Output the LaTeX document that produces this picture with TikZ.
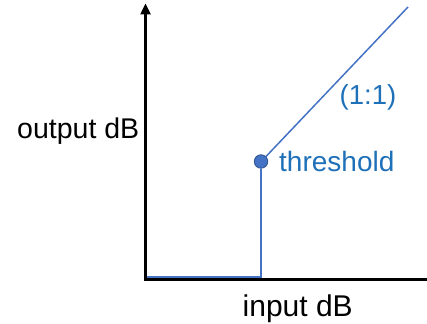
\documentclass[tikz,border=0pt]{standalone}
\usepackage{fontspec}
\setmainfont{Liberation Sans}
\usetikzlibrary{arrows.meta}
\definecolor{curve}{HTML}{4472C4}
\definecolor{curvedark}{HTML}{2F528F}
\definecolor{labelblue}{HTML}{1E70B8}
\tikzset{
  axis/.style={line width=2.4pt, black},
  curveline/.style={line width=1.5pt, curve},
  lbl/.style={inner sep=0pt, anchor=base west, font=\fontsize{28.5}{31}\selectfont},
  bluelbl/.style={lbl, text=labelblue},
}
\begin{document}
\begin{tikzpicture}[x=1pt, y=-1pt]
  \useasboundingbox (0,0) rectangle (427,323);
  % axes
  \coordinate (origin) at (145.5,279.5);
  \coordinate (ytip) at (145.5,3.5);
  \coordinate (xend) at (427,279.5);
  \draw[axis] (xend) -- ([xshift=-1.2pt]origin);
  \draw[axis, -{Triangle[length=11pt,width=10pt]}] (origin) -- (ytip);
  % transfer curve
  \coordinate (floorend) at (261,277.2);
  \coordinate (floorstart) at (146.5,277.2);
  \coordinate (top) at (408,7);
  \node[circle, fill=curve, draw=curvedark, line width=0.8pt, minimum size=13.5pt, inner sep=0pt] (thr) at (261,161.5) {};
  \draw[curveline] (floorstart) -- (floorend) -- (thr.south);
  \draw[curveline] (thr.north east) -- (top);
  % labels
  \node[lbl] (ylab) at (17,139) {output dB};
  \node[lbl, font=\fontsize{30}{33}\selectfont] (xlab) at (242.5,316) {input dB};
  \node[bluelbl, font=\fontsize{28}{31}\selectfont] (thrlab) at (279,171.5) {threshold};
  \node[bluelbl, font=\fontsize{27.5}{30}\selectfont] (slope) at (339.5,105) {(1:1)};
\end{tikzpicture}
\end{document}
